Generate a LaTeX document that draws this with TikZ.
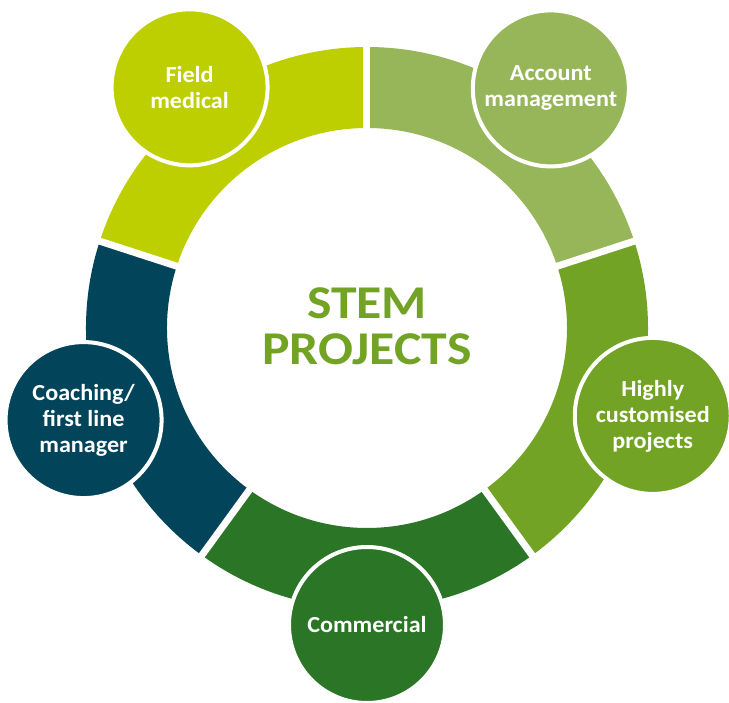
\documentclass[tikz,border=0pt]{standalone}
\usepackage{fontspec}
\setmainfont[FakeStretch=1.05]{Carlito}
\newfontfamily\stemfont[FakeStretch=1.1]{Carlito}
\definecolor{fieldcol}{HTML}{BDCF00}
\definecolor{accountcol}{HTML}{97B65A}
\definecolor{highlycol}{HTML}{72A324}
\definecolor{commercialcol}{HTML}{2A7526}
\definecolor{coachcol}{HTML}{02455A}

\begin{document}
\begin{tikzpicture}[x=1pt,y=1pt]
	\tikzstyle{every node}+=[inner sep=0pt]
	\tikzstyle{bubble}=[circle, minimum size=156pt, draw=white, line width=4pt, text=white, font=\bfseries\fontsize{23}{26}\selectfont, align=center]
	\useasboundingbox (-367,-375) rectangle (362,328);
	% ring segments
	\foreach \a/\b/\c in {90/162/fieldcol, 18/90/accountcol, -54/18/highlycol, -126/-54/commercialcol, 162/234/coachcol}
		\fill [\c] (\a:281) arc [start angle=\a, end angle=\b, radius=281] -- (\b:200) arc [start angle=\b, end angle=\a, radius=200] -- cycle;
	\foreach \a in {18,90,162,234,306}
		\draw [white, line width=7] (\a:190) -- (\a:290);
	% bubbles
	\node [bubble, fill=fieldcol] (field) at (126.4:299) {Field\\medical};
	\node [bubble, fill=accountcol] (account) at (52.5:302) {Account\\management};
	\node [bubble, fill=highlycol] (highly) at (-17.1:299) {Highly\\customised\\projects};
	\node [bubble, fill=commercialcol] (commercial) at (-90:297) {Commercial};
	\node [bubble, fill=coachcol] (coach) at (198:298) {Coaching/\\first line\\manager};
	\node [text=highlycol, font=\stemfont\bfseries\fontsize{47}{46}\selectfont, align=center] (stem) at (0,2) {STEM\\PROJECTS};
\end{tikzpicture}
\end{document}
